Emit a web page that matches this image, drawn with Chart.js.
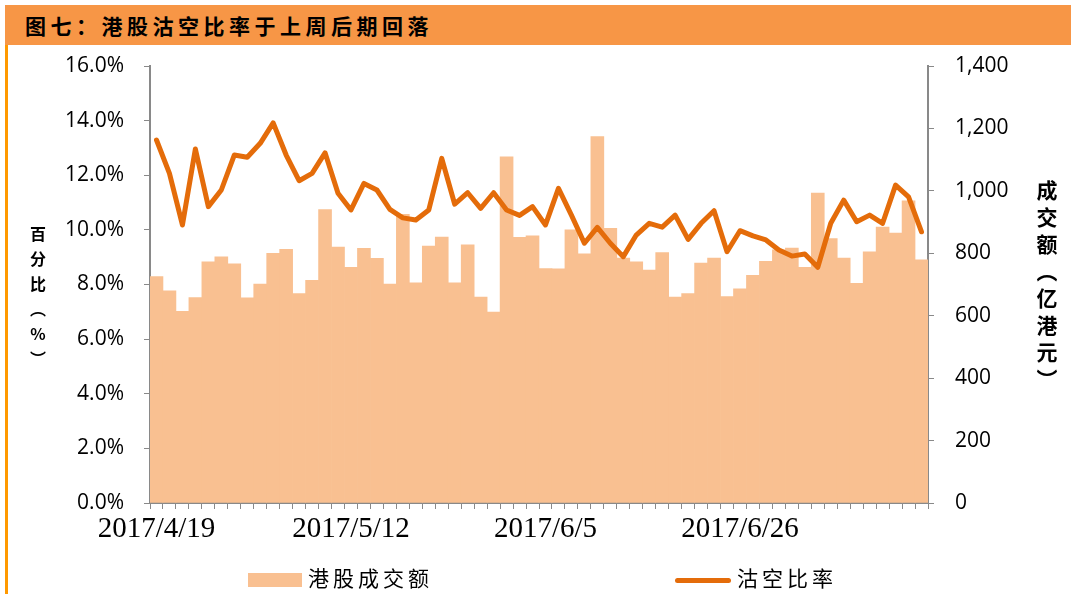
<!DOCTYPE html>
<html>
<head>
<meta charset="utf-8">
<script src="https://cdn.jsdelivr.net/npm/chart.js@4/dist/chart.umd.min.js"></script>
<style>
  body { margin: 0; background: #fff; width: 1071px; height: 594px; overflow: hidden; position: relative; }
  #leftBar { position: absolute; left: 5px; top: 5px; width: 3px; height: 589px; background: #FF9900; }
  #titleBar {
    position: absolute; left: 5px; top: 5px; width: 1066px; height: 40px; background: #F79646;
    font-family: "Noto Sans CJK SC", sans-serif; font-weight: 700; font-size: 21px; letter-spacing: 4.5px;
    line-height: 40px; color: #000; padding-left: 20px; box-sizing: border-box;
  }
  #chartBox { position: absolute; left: 0; top: 0; width: 1071px; height: 594px; }
  .axisTitle {
    position: absolute; writing-mode: vertical-rl; text-orientation: upright;
    font-family: "Noto Sans CJK SC", sans-serif; font-weight: 700; color: #000;
  }
  #leftTitle { left: 26px; top: 226px; font-size: 16px; letter-spacing: 9px; }
  #rightTitle { left: 1032px; top: 180px; font-size: 21px; letter-spacing: 6px; }
  .legend { position: absolute; top: 562px; font-family: "Noto Sans CJK SC", sans-serif; font-size: 21px; letter-spacing: 4px; color: #000; line-height: 30px; }
  .swatchBar { display: inline-block; width: 54px; height: 14px; background: #F9C091; vertical-align: middle; margin-right: 6px; }
  .swatchLine { display: inline-block; width: 56px; height: 5px; border-radius: 3px; background: #E46C0A; vertical-align: middle; margin-right: 6px; }
</style>
</head>
<body>
<div id="leftBar"></div>
<div id="titleBar">图七：港股沽空比率于上周后期回落</div>
<div id="chartBox"><canvas id="chart" width="1071" height="594"></canvas></div>
<div class="axisTitle" id="leftTitle">百分比（%）</div>
<div class="axisTitle" id="rightTitle">成交额（亿港元）</div>
<div class="legend" style="left:248px;"><span class="swatchBar"></span>港股成交额</div>
<div class="legend" style="left:675px;"><span class="swatchLine"></span>沽空比率</div>
<script>
// ---------------------------------------------------------------------------
// data
// ---------------------------------------------------------------------------
const dates = [
    '2017/4/19', '2017/4/20', '2017/4/21', '2017/4/24', '2017/4/25', '2017/4/26', '2017/4/27', '2017/4/28',
    '2017/5/2', '2017/5/4', '2017/5/5', '2017/5/8', '2017/5/9', '2017/5/10', '2017/5/11', '2017/5/12',
    '2017/5/15', '2017/5/16', '2017/5/17', '2017/5/18', '2017/5/19', '2017/5/22', '2017/5/23', '2017/5/24',
    '2017/5/25', '2017/5/26', '2017/5/29', '2017/5/31', '2017/6/1', '2017/6/2', '2017/6/5', '2017/6/6',
    '2017/6/7', '2017/6/8', '2017/6/9', '2017/6/12', '2017/6/13', '2017/6/14', '2017/6/15', '2017/6/16',
    '2017/6/19', '2017/6/20', '2017/6/21', '2017/6/22', '2017/6/23', '2017/6/26', '2017/6/27', '2017/6/28',
    '2017/6/29', '2017/6/30', '2017/7/3', '2017/7/4', '2017/7/5', '2017/7/6', '2017/7/7', '2017/7/10',
    '2017/7/11', '2017/7/12', '2017/7/13', '2017/7/14'
];

// 港股成交额 (亿港元)
const turnover = [
    725, 680, 614, 658, 773, 789, 766, 657, 701, 800, 813, 671, 713, 940, 820, 755,
    816, 784, 701, 925, 705, 823, 852, 705, 827, 660, 612, 1109, 851, 856, 751, 750,
    875, 798, 1174, 880, 785, 773, 746, 802, 660, 671, 769, 785, 661, 686, 729, 774,
    811, 817, 755, 993, 847, 785, 704, 805, 884, 865, 968, 779
];

// 沽空比率 (%)
const shortRatio = [
    13.29, 12.07, 10.18, 12.96, 10.85, 11.46, 12.74, 12.66, 13.17, 13.92, 12.74, 11.80, 12.07, 12.82, 11.34, 10.73,
    11.70, 11.46, 10.75, 10.44, 10.36, 10.73, 12.62, 10.94, 11.36, 10.79, 11.36, 10.73, 10.53, 10.85, 10.18, 11.52,
    10.54, 9.51, 10.09, 9.51, 9.02, 9.81, 10.24, 10.10, 10.54, 9.65, 10.24, 10.70, 9.20, 9.97, 9.78, 9.63,
    9.26, 9.04, 9.12, 8.63, 10.24, 11.09, 10.30, 10.54, 10.24, 11.64, 11.21, 9.93
];

const labelEvery = 15;   // x labels shown every 15 trading days

// ---------------------------------------------------------------------------
// chart
// ---------------------------------------------------------------------------
const axisGray = '#898989';
const tickFont = { family: '"Open Sans", sans-serif', size: 21 };

const ctx = document.getElementById('chart').getContext('2d');
new Chart(ctx, {
    type: 'bar',
    data: {
        labels: dates,
        datasets: [
            {
                type: 'line',
                label: '沽空比率',
                data: shortRatio,
                yAxisID: 'y',
                borderColor: '#E46C0A',
                borderWidth: 5,
                pointRadius: 0,
                tension: 0,
                borderJoinStyle: 'round',
                borderCapStyle: 'round',
                order: 0
            },
            {
                type: 'bar',
                label: '港股成交额',
                data: turnover,
                yAxisID: 'y1',
                backgroundColor: '#F9C091',
                borderWidth: 0,
                barPercentage: 1,
                categoryPercentage: 1,
                order: 1
            }
        ]
    },
    options: {
        responsive: false,
        animation: false,
        devicePixelRatio: 1,
        layout: { padding: { top: 66, left: 0, right: 0, bottom: 0 } },
        plugins: {
            legend: { display: false },
            tooltip: { enabled: false }
        },
        scales: {
            x: {
                offset: true,
                grid: { display: true, drawOnChartArea: false, offset: true, tickLength: 6, color: axisGray },
                border: { color: axisGray, width: 2 },
                ticks: {
                    autoSkip: false,
                    maxRotation: 0,
                    minRotation: 0,
                    padding: 3,
                    color: '#000',
                    font: { family: '"Liberation Serif", serif', size: 29 },
                    callback: function (val, idx) {
                        return idx % labelEvery === 0 ? this.getLabelForValue(val) : '';
                    }
                },
                afterFit: (scale) => { scale.height = 91; }
            },
            y: {
                position: 'left',
                min: 0,
                max: 16,
                grid: { display: true, drawOnChartArea: false, tickLength: 6, color: axisGray },
                border: { color: axisGray, width: 2 },
                ticks: {
                    stepSize: 2,
                    padding: 20,
                    color: '#000',
                    font: tickFont,
                    callback: (v) => v.toFixed(1) + '%'
                },
                afterFit: (scale) => { scale.width = 150; }
            },
            y1: {
                position: 'right',
                min: 0,
                max: 1400,
                grid: { display: true, drawOnChartArea: false, tickLength: 6, color: axisGray },
                border: { color: axisGray, width: 2 },
                ticks: {
                    stepSize: 200,
                    padding: 21,
                    color: '#000',
                    font: tickFont,
                    callback: (v) => v.toLocaleString('en-US')
                },
                afterFit: (scale) => { scale.width = 143; }
            }
        }
    }
});
</script>
</body>
</html>
